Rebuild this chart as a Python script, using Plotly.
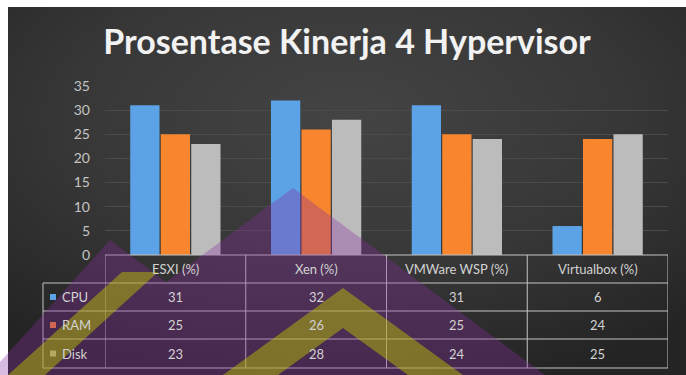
import base64
import plotly.graph_objects as go

# ---- data ----
categories = ["ESXI (%)", "Xen (%)", "VMWare WSP (%)", "Virtualbox (%)"]
series = ["CPU", "RAM", "Disk"]
cpu = [31, 32, 31, 6]
ram = [25, 26, 25, 24]
disk = [23, 28, 24, 25]
title_text = "Prosentase Kinerja 4 Hypervisor"

colors = ["#5ca2e6", "#f7862f", "#bcbcbc"]
values = [cpu, ram, disk]

W, H = 686, 375
L, R, T, B = 105, 668, 86, 255   # plot area in pixels


def px(x):
    return (x - L) / (R - L)


def py(y):
    return (B - y) / (B - T)


def path(pts):
    return "M " + " L ".join(f"{px(x):.4f},{py(y):.4f}" for x, y in pts) + " Z"


fig = go.Figure()
for name, vals, col in zip(series, values, colors):
    fig.add_bar(x=categories, y=vals, name=name, marker_color=col,
                marker_line_width=0)

shapes = []
# white border (top / left)
shapes.append(dict(type="rect", xref="paper", yref="paper", layer="below",
                   x0=px(0), x1=px(8), y0=py(0), y1=py(H),
                   fillcolor="white", line_width=0))
shapes.append(dict(type="rect", xref="paper", yref="paper", layer="below",
                   x0=px(0), x1=px(W), y0=py(0), y1=py(7),
                   fillcolor="white", line_width=0))

# ---- data table grid ----
line_col = "#c4c4c4"
rows_y = [255, 283, 311, 339, 368]
n = len(categories)
shapes.append(dict(type="line", xref="x", yref="paper", layer="above",
                   x0=-0.5, x1=n - 0.5, y0=py(255), y1=py(255),
                   line=dict(color=line_col, width=1.2)))
for yy in rows_y[1:]:
    shapes.append(dict(type="line", xref="paper", yref="paper", layer="above",
                       x0=px(43), x1=px(R), y0=py(yy), y1=py(yy),
                       line=dict(color=line_col, width=1)))
for i in range(n + 1):
    shapes.append(dict(type="line", xref="x", yref="paper", layer="above",
                       x0=i - 0.5, x1=i - 0.5, y0=py(255), y1=py(368),
                       line=dict(color=line_col, width=1)))
shapes.append(dict(type="line", xref="paper", yref="paper", layer="above",
                   x0=px(43), x1=px(43), y0=py(283), y1=py(368),
                   line=dict(color=line_col, width=1)))

# legend keys in table
for k, col in enumerate(colors):
    yc = (rows_y[k + 1] + rows_y[k + 2]) / 2
    shapes.append(dict(type="rect", xref="paper", yref="paper", layer="above",
                       x0=px(50), x1=px(56), y0=py(yc - 3), y1=py(yc + 3),
                       fillcolor=col, line_width=0))

# ---- watermark overlay ----
shapes.append(dict(type="path", xref="paper", yref="paper", layer="above",
                   path=path([(0, 362), (110, 240), (166, 282), (293, 188),
                              (545, 375), (0, 375)]),
                   fillcolor="#8a2a9e", opacity=0.33, line_width=0))
shapes.append(dict(type="path", xref="paper", yref="paper", layer="above",
                   path=path([(343, 288), (463, 375), (408, 375), (343, 328),
                              (278, 375), (223, 375)]),
                   fillcolor="#c0cc00", opacity=0.45, line_width=0))
shapes.append(dict(type="path", xref="paper", yref="paper", layer="above",
                   path=path([(122, 272), (158, 272), (45, 375), (8, 375)]),
                   fillcolor="#c0cc00", opacity=0.45, line_width=0))

annotations = []
txt_col = "#d2d2d2"
font_fam = "Lato, Open Sans, sans-serif"
for c in categories:
    annotations.append(dict(x=c, xref="x", y=py(269), yref="paper",
                            xanchor="center", yanchor="middle",
                            text=c, showarrow=False,
                            font=dict(family=font_fam, size=13, color=txt_col)))
for k, (name, vals) in enumerate(zip(series, values)):
    yc = (rows_y[k + 1] + rows_y[k + 2]) / 2
    annotations.append(dict(x=px(60), xref="paper", y=py(yc), yref="paper",
                            text=name, showarrow=False, xanchor="left",
                            yanchor="middle",
                            font=dict(family=font_fam, size=13, color=txt_col)))
    for c, v in zip(categories, vals):
        annotations.append(dict(x=c, xref="x", y=py(yc), yref="paper",
                                xanchor="center", yanchor="middle",
                                text=str(v), showarrow=False,
                                font=dict(family=font_fam, size=13, color=txt_col)))

# background gradient
svg = ('<svg xmlns="http://www.w3.org/2000/svg" width="678" height="368">'
       '<defs><radialGradient id="g" cx="0.5" cy="0.3" r="0.75">'
       '<stop offset="0" stop-color="#444444"/>'
       '<stop offset="0.55" stop-color="#373737"/>'
       '<stop offset="1" stop-color="#242424"/>'
       '</radialGradient></defs>'
       '<rect width="678" height="368" fill="url(#g)"/></svg>')
src = "data:image/svg+xml;base64," + base64.b64encode(svg.encode()).decode()

fig.update_layout(
    width=W, height=H,
    margin=dict(l=L, r=W - R, t=T, b=H - B, pad=0),
    paper_bgcolor="#2f2f2f",
    plot_bgcolor="rgba(0,0,0,0)",
    barmode="group", bargap=0.35, bargroupgap=0.04,
    showlegend=False,
    title=dict(text="<b>" + title_text + "</b>", x=347 / W, xanchor="center",
               y=1 - 42 / H, yanchor="middle",
               font=dict(family=font_fam, size=34, color="#f2f2f2")),
    xaxis=dict(showticklabels=False, showgrid=False, zeroline=False,
               showline=False, ticks="", range=[-0.5, n - 0.5]),
    yaxis=dict(range=[0, 35], dtick=5, gridcolor="#4b4b4b", gridwidth=1,
               zeroline=False, showline=False, ticks="",
               ticklabelstandoff=14,
               tickfont=dict(family=font_fam, size=14, color="#c4c4c4")),
    shapes=shapes,
    annotations=annotations,
    images=[dict(source=src, xref="paper", yref="paper",
                 x=px(8), y=py(7), sizex=px(W) - px(8), sizey=py(7) - py(H),
                 xanchor="left", yanchor="top", sizing="stretch",
                 layer="below")],
)

fig.write_html("out.html")
